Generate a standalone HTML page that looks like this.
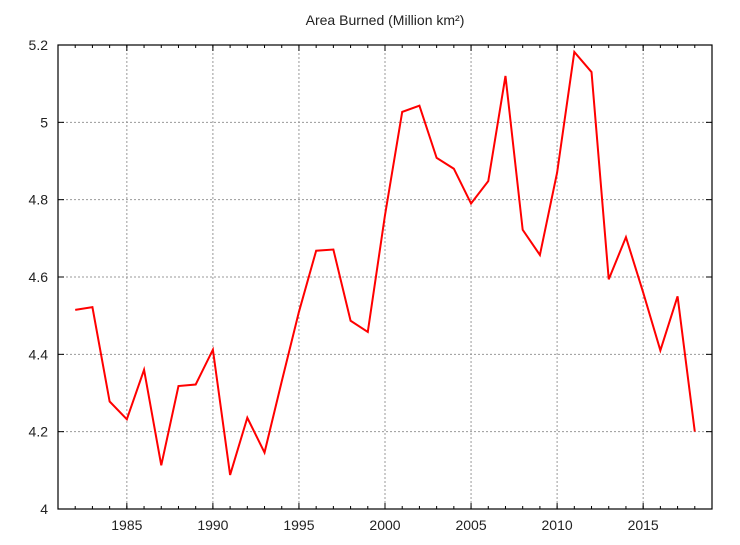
<!DOCTYPE html>
<html><head><meta charset="utf-8"><style>
body{margin:0;background:#fff;width:740px;height:540px;overflow:hidden}
svg text{font-family:"Liberation Sans",sans-serif;fill:#222}
</style></head><body>
<svg id="chart" width="740" height="540" xmlns="http://www.w3.org/2000/svg">
<text x="385" y="25" font-size="14" text-anchor="middle">Area Burned (Million km²)</text>
<g id="grid"></g>
<g id="axes"></g>
<polyline id="line" fill="none" stroke="#ff0000" stroke-width="2" stroke-linejoin="miter"/>
<rect x="58" y="45" width="654" height="464" fill="none" stroke="#000" stroke-width="1.2"/>
</svg>
<script>
const years=[1982,1983,1984,1985,1986,1987,1988,1989,1990,1991,1992,1993,1994,1995,1996,1997,1998,1999,2000,2001,2002,2003,2004,2005,2006,2007,2008,2009,2010,2011,2012,2013,2014,2015,2016,2017,2018];
const values=[4.515,4.522,4.278,4.232,4.36,4.113,4.318,4.322,4.412,4.088,4.236,4.146,4.33,4.51,4.668,4.671,4.487,4.458,4.76,5.027,5.043,4.908,4.88,4.79,4.848,5.12,4.722,4.657,4.87,5.182,5.13,4.594,4.703,4.56,4.41,4.55,4.2];
const xTicks=[1985,1990,1995,2000,2005,2010,2015];
const yTicks=[4,4.2,4.4,4.6,4.8,5,5.2];
const yLabels=["4","4.2","4.4","4.6","4.8","5","5.2"];
const L=58,R=712,T=45,B=509,X0=1981,X1=2019,Y0=4,Y1=5.2;
const sx=v=>L+(v-X0)/(X1-X0)*(R-L);
const sy=v=>B-(v-Y0)/(Y1-Y0)*(B-T);
const NS="http://www.w3.org/2000/svg";
const grid=document.getElementById('grid'),axes=document.getElementById('axes');
function mk(t,a,p){const e=document.createElementNS(NS,t);for(const k in a)e.setAttribute(k,a[k]);p.appendChild(e);return e;}
xTicks.forEach(v=>{
 const g=mk('line',{x1:sx(v),x2:sx(v),y1:T,y2:B,stroke:'#999','stroke-dasharray':'2,2'},grid);
 
 
 const t=mk('text',{x:sx(v),y:B+21,'font-size':14,'text-anchor':'middle'},axes);
 t.textContent=v;
 
 
 mk('line',{x1:sx(v),x2:sx(v),y1:B,y2:B-6,stroke:'#000'},axes);
 mk('line',{x1:sx(v),x2:sx(v),y1:T,y2:T+6,stroke:'#000'},axes);
});
for(let y=X0+1;y<X1;y++){
 mk('line',{x1:sx(y),x2:sx(y),y1:B,y2:B-3,stroke:'#000'},axes);
 mk('line',{x1:sx(y),x2:sx(y),y1:T,y2:T+3,stroke:'#000'},axes);
}
yTicks.forEach((v,i)=>{
 if(i>0&&i<yTicks.length-1){
 const g=mk('line',{x1:L,x2:R,y1:sy(v),y2:sy(v),stroke:'#999','stroke-dasharray':'2,2'},grid);
 
 }
 const t=mk('text',{x:L-10,y:sy(v)+5,'font-size':14,'text-anchor':'end'},axes);
 t.textContent=yLabels[i];
 
 
 mk('line',{x1:L,x2:L+6,y1:sy(v),y2:sy(v),stroke:'#000'},axes);
 mk('line',{x1:R,x2:R-6,y1:sy(v),y2:sy(v),stroke:'#000'},axes);
});
document.getElementById('line').setAttribute('points',years.map((y,i)=>sx(y)+','+sy(values[i])).join(' '));
</script>
</body></html>
